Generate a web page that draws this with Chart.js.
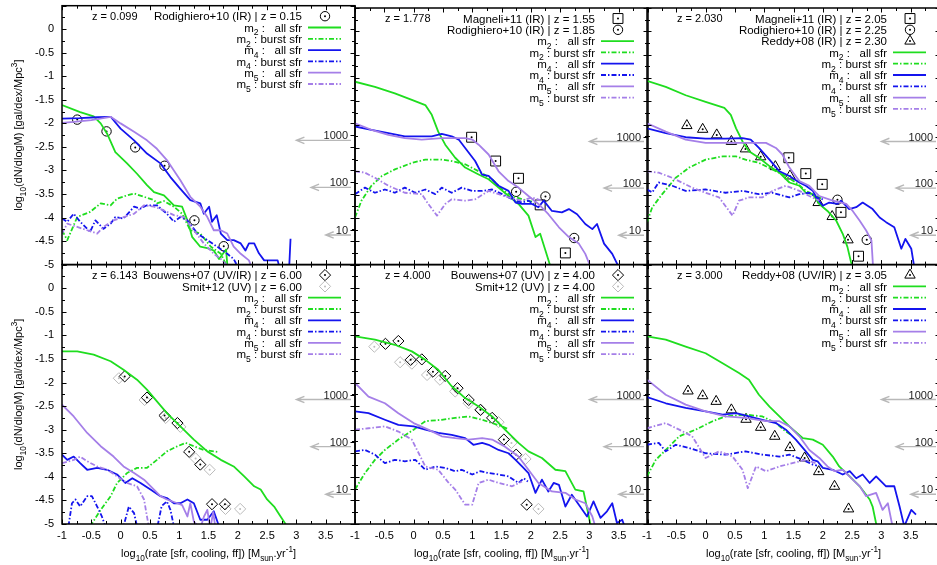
<!DOCTYPE html>
<html><head><meta charset="utf-8">
<script src="https://cdn.jsdelivr.net/npm/chart.js@4.4.1/dist/chart.umd.min.js"></script>
<style>
html,body{margin:0;padding:0;background:#fff;overflow:hidden;width:937px;height:565px;position:relative;}
canvas{position:absolute;left:0;top:0;}
</style></head><body>
<script>
// ---------------- DATA ----------------
const X_TICKS = [-1,-0.5,0,0.5,1,1.5,2,2.5,3,3.5,4];
const X_TICK_LABELS = ['-1','-0.5','0','0.5','1','1.5','2','2.5','3','3.5',''];
const X_MINOR = [-0.75,-0.25,0.25,0.75,1.25,1.75,2.25,2.75,3.25,3.75];
const Y_TICKS = [-5,-4.5,-4,-3.5,-3,-2.5,-2,-1.5,-1,-0.5,0,0.5];
const Y_TICK_LABELS = ['-5','-4.5','-4','-3.5','-3','-2.5','-2','-1.5','-1','-0.5','0',''];
const Y_MINOR = [-4.75,-4.25,-3.75,-3.25,-2.75,-2.25,-1.75,-1.25,-0.75,-0.25,0.25];
const COUNT_TICKS = [10,100,1000];
const COUNT_OFFSET = 5.255;          // log10(count) = y + offset
const ARROW_Y = [-2.36,-3.36,-4.37];
const ARROW_X = [3.0,3.25,3.5];
const Z_LABELS = ['z = 0.099','z = 1.778','z = 2.030','z = 6.143','z = 4.000','z = 3.000'];

// panel 1 (z=0.099)
const p1_m2_all=[[-1,-1.61],[-0.69,-1.76],[-0.46,-1.85],[-0.34,-2.0],[-0.23,-2.22],[-0.09,-2.61],[0.11,-2.85],[0.28,-3.07],[0.45,-3.31],[0.57,-3.46],[0.74,-3.53],[0.91,-3.74],[1.05,-3.77],[1.14,-4.06],[1.22,-4.41],[1.36,-4.62],[1.48,-4.65],[1.59,-4.7],[1.68,-4.88],[1.8,-4.68],[1.84,-5.3]];
const p1_m2_burst=[[-1,-4.27],[-0.91,-4.48],[-0.74,-3.99],[-0.52,-3.88],[-0.34,-3.7],[-0.17,-3.74],[-0.06,-3.6],[0.11,-3.53],[0.23,-3.49],[0.4,-3.56],[0.57,-3.63],[0.62,-3.7],[0.74,-3.65],[0.91,-3.77],[1.05,-3.92],[1.19,-4.27],[1.36,-4.34],[1.54,-4.62],[1.71,-4.77],[1.82,-5.05]];
const p1_m4_all=[[-1,-1.9],[-0.7,-1.89],[-0.4,-1.87],[-0.17,-1.86],[0,-2.11],[0.23,-2.36],[0.45,-2.64],[0.68,-2.85],[0.85,-3.14],[1.02,-3.39],[1.19,-3.63],[1.36,-3.7],[1.42,-3.92],[1.51,-3.77],[1.56,-4.09],[1.64,-3.95],[1.71,-4.34],[1.82,-4.48],[1.93,-4.48],[2.05,-4.55],[2.13,-4.7],[2.19,-4.55],[2.28,-4.55],[2.36,-4.76],[2.45,-4.91],[2.56,-4.91],[2.68,-4.91],[2.72,-5.1],[2.86,-5.5],[2.9,-4.45]];
const p1_m4_burst=[[-1,-4.02],[-0.91,-4.09],[-0.8,-3.92],[-0.69,-4.09],[-0.52,-4.3],[-0.43,-4.06],[-0.29,-4.24],[-0.17,-4.13],[-0.09,-3.99],[0.05,-4.02],[0.23,-3.77],[0.34,-3.81],[0.45,-3.74],[0.62,-3.74],[0.79,-3.92],[0.91,-4.09],[1.02,-3.99],[1.14,-4.06],[1.31,-4.34],[1.48,-4.48],[1.65,-4.62],[1.82,-4.77],[1.93,-4.88],[2.0,-5.05]];
const p1_m5_all=[[-1,-1.99],[-0.8,-1.97],[-0.5,-1.93],[-0.17,-1.86],[0,-2.0],[0.23,-2.18],[0.45,-2.36],[0.62,-2.54],[0.79,-2.78],[1.02,-3.21],[1.19,-3.56],[1.36,-3.77],[1.48,-3.99],[1.59,-4.27],[1.71,-4.27],[1.82,-4.34],[1.93,-4.62],[2.05,-4.77],[2.19,-4.91],[2.25,-5.1]];
const p1_m5_burst=[[-1,-4.34],[-0.91,-4.13],[-0.74,-4.2],[-0.57,-4.27],[-0.4,-4.34],[-0.29,-4.2],[-0.12,-4.06],[0.05,-3.99],[0.23,-3.92],[0.4,-3.74],[0.57,-3.77],[0.74,-3.85],[0.91,-3.95],[1.08,-3.99],[1.25,-4.27],[1.42,-4.55],[1.59,-4.77],[1.71,-4.88],[1.82,-5.02]];
const p1_rodighiero=[[-0.74,-1.92],[-0.24,-2.17],[0.25,-2.51],[0.75,-2.9],[1.26,-4.06],[1.76,-4.61]];

// panel 2 (z=1.778)
const p2_m2_all=[[-1,-1.08],[-0.66,-1.19],[-0.32,-1.33],[-0.03,-1.47],[0.2,-1.58],[0.31,-1.79],[0.42,-2.15],[0.54,-2.43],[0.71,-2.71],[0.88,-2.92],[1.11,-3.07],[1.28,-3.17],[1.45,-3.35],[1.62,-3.53],[1.79,-3.7],[1.96,-3.95],[2.08,-4.41],[2.16,-4.34],[2.25,-4.7],[2.35,-5.1]];
const p2_m2_burst=[[-1,-3.99],[-0.89,-3.63],[-0.72,-3.31],[-0.54,-3.1],[-0.32,-2.96],[-0.03,-2.82],[0.2,-2.75],[0.48,-2.75],[0.65,-2.78],[0.88,-2.85],[1.11,-3.0],[1.34,-3.17],[1.51,-3.39],[1.68,-3.53],[1.85,-3.6],[2.05,-3.66]];
const p2_m4_all=[[-1,-2.04],[-0.72,-2.11],[-0.43,-2.18],[-0.15,-2.25],[0.14,-2.25],[0.31,-2.25],[0.48,-2.2],[0.65,-2.25],[0.77,-2.32],[0.88,-2.5],[1.05,-2.78],[1.17,-3.07],[1.28,-3.1],[1.45,-3.31],[1.62,-3.42],[1.74,-3.67],[1.85,-3.7],[2.02,-3.7],[2.13,-3.77],[2.22,-3.63],[2.36,-3.85],[2.53,-3.88],[2.65,-3.81],[2.79,-3.92],[2.93,-4.13],[3.05,-4.24],[3.13,-4.13],[3.25,-4.55],[3.39,-4.77],[3.5,-5.05]];
const p2_m4_burst=[[-1,-3.49],[-0.83,-3.35],[-0.66,-3.46],[-0.49,-3.39],[-0.32,-3.46],[-0.15,-3.35],[0.03,-3.46],[0.2,-3.39],[0.37,-3.49],[0.48,-3.35],[0.65,-3.46],[0.82,-3.35],[1.0,-3.42],[1.17,-3.42],[1.34,-3.39],[1.51,-3.49],[1.62,-3.56],[1.74,-3.63],[1.85,-3.67],[1.96,-3.63],[2.05,-3.7]];
const p2_m5_all=[[-1,-1.97],[-0.72,-2.11],[-0.43,-2.22],[-0.15,-2.29],[0.14,-2.32],[0.48,-2.29],[0.71,-2.29],[0.88,-2.29],[1.0,-2.32],[1.11,-2.43],[1.28,-2.64],[1.45,-3.0],[1.62,-3.21],[1.79,-3.35],[1.96,-3.53],[2.13,-3.7],[2.3,-3.92],[2.48,-4.2],[2.65,-4.41],[2.82,-4.55],[2.93,-4.77],[3.02,-5.05]];
const p2_m5_burst=[[-1,-3.0],[-0.83,-3.03],[-0.66,-3.14],[-0.43,-3.31],[-0.15,-3.46],[0.14,-3.49],[0.25,-3.7],[0.4,-3.95],[0.54,-3.7],[0.65,-3.6],[0.88,-3.63],[1.05,-3.6],[1.28,-3.42],[1.45,-3.49],[1.62,-3.56],[1.85,-3.63],[2.02,-3.56],[2.19,-3.63]];
const p2_magneli=[[0.99,-2.27],[1.4,-2.78],[1.79,-3.15],[2.16,-3.72],[2.59,-4.75]];
const p2_rodighiero=[[1.75,-3.44],[2.25,-3.54],[2.74,-4.43]];

// panel 3 (z=2.030)
const p3_m2_all=[[-1,-1.06],[-0.68,-1.19],[-0.34,-1.37],[0,-1.51],[0.32,-1.64],[0.43,-1.79],[0.52,-2.08],[0.63,-2.36],[0.74,-2.57],[0.91,-2.71],[1.09,-2.89],[1.26,-3.03],[1.43,-3.24],[1.6,-3.31],[1.71,-3.46],[1.83,-3.49],[1.94,-3.7],[2.08,-3.85],[2.23,-4.06],[2.34,-4.34],[2.42,-4.62],[2.48,-4.94],[2.52,-5.1]];
const p3_m2_burst=[[-1,-4.09],[-0.91,-3.77],[-0.74,-3.49],[-0.51,-3.14],[-0.28,-2.92],[0,-2.75],[0.29,-2.68],[0.52,-2.68],[0.68,-2.75],[0.91,-2.82],[1.14,-2.96],[1.37,-3.1],[1.54,-3.24],[1.71,-3.42],[1.89,-3.53],[2.0,-3.6]];
const p3_m4_all=[[-1,-2.08],[-0.68,-2.18],[-0.34,-2.27],[0,-2.3],[0.34,-2.3],[0.63,-2.29],[0.77,-2.32],[0.91,-2.5],[1.09,-2.75],[1.26,-3.0],[1.43,-3.1],[1.6,-3.24],[1.71,-3.31],[1.83,-3.42],[1.89,-3.56],[2.0,-3.74],[2.11,-3.67],[2.25,-3.7],[2.31,-3.63],[2.45,-3.81],[2.57,-3.77],[2.68,-3.67],[2.85,-3.81],[2.97,-3.99],[3.08,-4.09],[3.22,-4.2],[3.34,-4.66],[3.41,-4.45],[3.51,-4.66],[3.56,-5.05]];
const p3_m4_burst=[[-1,-3.39],[-0.91,-3.45],[-0.8,-3.24],[-0.57,-3.31],[-0.34,-3.42],[0,-3.39],[0.34,-3.46],[0.63,-3.42],[0.91,-3.49],[1.14,-3.46],[1.43,-3.56],[1.6,-3.49],[1.77,-3.46],[1.89,-3.56],[2.0,-3.6]];
const p3_m5_all=[[-1,-1.97],[-0.68,-2.15],[-0.34,-2.32],[0,-2.39],[0.34,-2.39],[0.68,-2.39],[1.03,-2.39],[1.2,-2.5],[1.31,-2.64],[1.43,-2.92],[1.6,-3.21],[1.77,-3.31],[1.94,-3.53],[2.17,-3.63],[2.4,-3.7],[2.51,-3.85],[2.63,-4.06],[2.74,-4.27],[2.83,-4.48],[2.86,-5.1]];
const p3_m5_burst=[[-1,-3.0],[-0.8,-3.03],[-0.57,-3.14],[-0.23,-3.35],[0,-3.46],[0.23,-3.56],[0.46,-3.95],[0.57,-3.63],[0.74,-3.56],[0.97,-3.56],[1.14,-3.42],[1.37,-3.31],[1.6,-3.42],[1.77,-3.53],[1.94,-3.63]];
const p3_magneli=[[1.42,-2.71],[1.71,-3.05],[1.99,-3.28],[2.31,-3.88],[2.61,-4.82]];
const p3_rodighiero=[[2.25,-3.61],[2.75,-4.47]];
const p3_reddy=[[-0.32,-2.02],[-0.05,-2.1],[0.19,-2.22],[0.44,-2.36],[0.68,-2.52],[0.94,-2.69],[1.19,-2.9],[1.44,-3.1],[1.92,-3.67],[2.16,-3.97],[2.43,-4.47]];

// panel 4 (z=6.143)
const p4_m2_all=[[-1,-1.34],[-0.74,-1.34],[-0.46,-1.41],[-0.17,-1.55],[0.05,-1.73],[0.28,-1.94],[0.45,-2.15],[0.62,-2.4],[0.79,-2.65],[1.02,-2.93],[1.25,-3.21],[1.48,-3.46],[1.71,-3.64],[1.93,-3.78],[2.11,-3.99],[2.28,-4.2],[2.39,-4.27],[2.5,-4.48],[2.62,-4.63],[2.73,-4.84],[2.84,-5.05]];
const p4_m2_burst=[[-0.52,-5.05],[-0.34,-4.7],[-0.17,-4.41],[-0.06,-4.13],[0.11,-3.92],[0.28,-3.81],[0.45,-3.81],[0.62,-3.64],[0.79,-3.46],[0.97,-3.35],[1.11,-3.28],[1.25,-3.35],[1.42,-3.43],[1.59,-3.46],[1.65,-3.47]];
const p4_m4_all=[[-1,-3.53],[-0.91,-3.64],[-0.8,-3.57],[-0.69,-3.71],[-0.57,-3.85],[-0.4,-3.81],[-0.23,-3.85],[-0.06,-3.95],[0.08,-4.13],[0.2,-4.03],[0.34,-4.13],[0.51,-4.27],[0.68,-4.41],[0.79,-4.45],[0.91,-4.56],[1.02,-4.56],[1.14,-4.48],[1.25,-4.56],[1.36,-4.91],[1.48,-4.91],[1.59,-4.73],[1.68,-5.05]];
const p4_m4_burst=[[-0.89,-5.05],[-0.83,-4.56],[-0.77,-4.48],[-0.69,-4.63],[-0.57,-4.41],[-0.49,-4.41],[-0.4,-4.63],[-0.32,-4.84],[-0.26,-5.05],[-0.1,-5.6],[0.05,-5.05],[0.14,-4.63],[0.23,-4.77],[0.28,-5.05],[0.5,-5.6],[0.63,-5.05],[0.7,-4.62],[0.79,-4.52],[0.85,-4.7],[0.91,-5.05]];
const p4_m5_all=[[-1,-2.47],[-0.8,-2.72],[-0.57,-3.07],[-0.34,-3.35],[-0.12,-3.57],[0.05,-3.78],[0.23,-3.92],[0.4,-4.06],[0.57,-4.27],[0.68,-4.41],[0.79,-4.48],[0.97,-4.56],[1.05,-4.6],[1.14,-4.84],[1.19,-4.56],[1.25,-4.95],[1.36,-5.1],[1.42,-4.85],[1.48,-4.7],[1.53,-5.1],[1.58,-4.75],[1.62,-5.1]];
const p4_m5_burst=[[-1,-3.71],[-0.8,-3.64],[-0.69,-3.57],[-0.57,-3.67],[-0.4,-3.78],[-0.23,-3.85],[-0.06,-3.99],[0.11,-4.13],[0.28,-4.2],[0.4,-4.48],[0.45,-4.84],[0.48,-5.05]];
const p4_bouwens=[[0.07,-1.87],[0.45,-2.32],[0.75,-2.7],[0.97,-2.86],[1.17,-3.47],[1.36,-3.74],[1.56,-4.58],[1.78,-4.58]];
const p4_smit=[[-0.03,-1.91],[0.41,-2.37],[0.77,-2.75],[1.02,-2.94],[1.28,-3.61],[1.52,-3.85],[1.79,-4.68],[2.04,-4.68]];

// panel 5 (z=4.000)
const p5_m2_all=[[-1,-1.02],[-0.66,-1.09],[-0.32,-1.2],[-0.03,-1.34],[0.2,-1.52],[0.42,-1.73],[0.65,-2.08],[0.88,-2.33],[1.11,-2.51],[1.34,-2.72],[1.56,-3.0],[1.79,-3.28],[1.96,-3.46],[2.19,-3.6],[2.42,-3.85],[2.59,-3.88],[2.76,-4.27],[2.9,-4.31],[2.99,-4.84],[3.03,-5.1]];
const p5_m2_burst=[[-1,-4.27],[-0.83,-3.92],[-0.66,-3.64],[-0.49,-3.43],[-0.26,-3.21],[0,-3.0],[0.2,-2.82],[0.48,-2.79],[0.71,-2.75],[0.94,-2.72],[1.17,-2.79],[1.34,-2.86],[1.51,-2.93],[1.6,-2.98]];
const p5_m4_all=[[-1,-2.61],[-0.77,-2.65],[-0.49,-2.79],[-0.26,-2.9],[0,-2.93],[0.2,-3.0],[0.42,-3.07],[0.65,-3.11],[0.88,-3.18],[1.02,-3.32],[1.17,-3.28],[1.28,-3.32],[1.45,-3.43],[1.62,-3.5],[1.74,-3.64],[1.85,-3.78],[1.96,-3.92],[2.08,-4.34],[2.19,-4.06],[2.3,-4.31],[2.39,-4.13],[2.48,-4.17],[2.59,-4.63],[2.7,-4.38],[2.82,-4.59],[2.96,-4.84],[3.07,-4.52],[3.19,-4.87],[3.3,-4.73],[3.39,-4.56],[3.47,-4.98],[3.56,-4.91],[3.6,-5.05]];
const p5_m4_burst=[[-1,-3.46],[-0.83,-3.43],[-0.66,-3.53],[-0.49,-3.71],[-0.32,-3.64],[-0.15,-3.67],[0.03,-3.64],[0.2,-3.85],[0.37,-3.78],[0.54,-3.81],[0.71,-3.88],[0.82,-3.85],[1.0,-3.95],[1.14,-3.88],[1.28,-3.92],[1.45,-3.95],[1.62,-3.99],[1.79,-4.13],[1.88,-4.03],[1.95,-4.1]];
const p5_m5_all=[[-1,-2.01],[-0.77,-2.3],[-0.49,-2.44],[-0.26,-2.65],[0,-2.86],[0.25,-3.0],[0.48,-3.14],[0.71,-3.18],[0.94,-3.21],[1.17,-3.18],[1.34,-3.21],[1.56,-3.36],[1.79,-3.57],[1.96,-3.85],[2.13,-4.13],[2.36,-4.31],[2.59,-4.34],[2.76,-4.48],[2.93,-4.56],[3.05,-4.84],[3.1,-5.05]];
const p5_m5_burst=[[-1,-3.0],[-0.77,-2.97],[-0.49,-2.93],[-0.26,-3.04],[-0.03,-3.21],[0.2,-3.78],[0.42,-3.85],[0.6,-4.13],[0.71,-4.27],[0.88,-4.59],[1.0,-4.59],[1.11,-4.13],[1.28,-4.06],[1.45,-4.13],[1.68,-4.2],[1.85,-4.1]];
const p5_bouwens=[[-0.48,-1.18],[-0.26,-1.12],[-0.05,-1.52],[0.14,-1.51],[0.33,-1.77],[0.54,-1.86],[0.75,-2.12],[0.94,-2.37],[1.14,-2.58],[1.34,-2.75],[1.54,-3.21],[1.75,-3.53],[1.93,-4.59]];
const p5_smit=[[-0.67,-1.24],[-0.23,-1.57],[-0.03,-1.6],[0.23,-1.84],[0.45,-1.94],[0.71,-2.19],[0.94,-2.44],[1.15,-2.58],[1.45,-2.84],[1.67,-3.28],[1.91,-3.62],[2.13,-4.68]];

// panel 6 (z=3.000)
const p6_m2_all=[[-1,-1.02],[-0.68,-1.09],[-0.34,-1.24],[0,-1.38],[0.29,-1.59],[0.57,-1.8],[0.74,-1.94],[0.91,-2.26],[1.09,-2.51],[1.26,-2.72],[1.43,-2.93],[1.66,-3.18],[1.83,-3.21],[2.0,-3.32],[2.17,-3.57],[2.28,-3.78],[2.46,-3.99],[2.63,-4.2],[2.8,-4.48],[2.85,-4.63],[2.92,-5.05]];
const p6_m2_burst=[[-1,-3.99],[-0.85,-3.64],[-0.68,-3.43],[-0.45,-3.14],[-0.17,-3.0],[0.12,-2.82],[0.34,-2.72],[0.68,-2.68],[0.97,-2.72],[1.2,-2.86],[1.37,-3.04],[1.45,-3.1]];
const p6_m4_all=[[-1,-2.31],[-0.68,-2.44],[-0.34,-2.54],[0,-2.61],[0.29,-2.68],[0.52,-2.65],[0.74,-2.72],[0.97,-2.79],[1.2,-2.86],[1.37,-3.0],[1.54,-3.21],[1.71,-3.46],[1.83,-3.64],[1.91,-3.67],[2.0,-3.81],[2.17,-3.85],[2.34,-3.95],[2.46,-3.88],[2.57,-4.03],[2.68,-3.95],[2.8,-4.13],[2.91,-3.99],[3.08,-4.2],[3.22,-4.2],[3.31,-4.63],[3.39,-5.05],[3.51,-4.7],[3.59,-4.8]];
const p6_m4_burst=[[-1,-3.32],[-0.8,-3.28],[-0.68,-3.46],[-0.51,-3.32],[-0.28,-3.39],[0,-3.5],[0.34,-3.53],[0.68,-3.46],[0.97,-3.53],[1.26,-3.57],[1.43,-3.53],[1.66,-3.64],[1.83,-3.74],[1.9,-3.76]];
const p6_m5_all=[[-1,-1.94],[-0.68,-2.26],[-0.34,-2.47],[0,-2.61],[0.34,-2.72],[0.68,-2.75],[1.03,-2.82],[1.26,-2.82],[1.43,-2.93],[1.6,-3.14],[1.77,-3.43],[1.94,-3.6],[2.08,-3.78],[2.2,-3.88],[2.34,-3.85],[2.51,-4.06],[2.63,-4.2],[2.74,-4.41],[2.91,-4.34],[3.02,-4.7],[3.11,-4.56],[3.19,-5.05]];
const p6_m5_burst=[[-1,-2.97],[-0.68,-2.86],[-0.45,-3.0],[-0.23,-3.14],[0,-3.6],[0.23,-3.46],[0.46,-3.57],[0.63,-3.85],[0.72,-4.24],[0.86,-3.78],[1.03,-3.88],[1.26,-3.78],[1.48,-3.71],[1.71,-3.64],[1.88,-3.71]];
const p6_reddy=[[-0.3,-2.18],[-0.05,-2.28],[0.18,-2.4],[0.44,-2.58],[0.69,-2.78],[0.94,-2.95],[1.18,-3.14],[1.44,-3.38],[1.69,-3.6],[1.93,-3.89],[2.2,-4.2],[2.44,-4.68]];

// ---------------- STYLE / LAYOUT ----------------
const FONT = "'Liberation Sans', Arial, Helvetica, sans-serif";
const GREEN='#1fdd1f', BLUE='#1414ee', PURPLE='#a57fe8';
const DASHDOT=[5,2,1.5,2];
const CW=960, CH=565;
const COL_LEFT=[62,355,647], PW=293;
const ROW_TOP=[5.5,264.6], ROW_BOT=[264.6,524];
const YW=40, XH=30;
const LEG_FS=11.5;

const modelStyle=[
  {color:GREEN, dash:[], label:[['m',0],['2',1],[' :   all sfr',0]]},
  {color:GREEN, dash:DASHDOT, label:[['m',0],['2',1],[' : burst sfr',0]]},
  {color:BLUE, dash:[], label:[['m',0],['4',1],[' :   all sfr',0]]},
  {color:BLUE, dash:DASHDOT, label:[['m',0],['4',1],[' : burst sfr',0]]},
  {color:PURPLE, dash:[], label:[['m',0],['5',1],[' :   all sfr',0]]},
  {color:PURPLE, dash:DASHDOT, label:[['m',0],['5',1],[' : burst sfr',0]]}
];
const MARK_R={circle:4.7, rect:7, triangle:6, rectRot:5.6};

const panels=[
 {col:0,row:0,z:Z_LABELS[0],models:[p1_m2_all,p1_m2_burst,p1_m4_all,p1_m4_burst,p1_m5_all,p1_m5_burst],
  obs:[{label:'Rodighiero+10 (IR) | z = 0.15',style:'circle',color:'#000',data:p1_rodighiero}]},
 {col:1,row:0,z:Z_LABELS[1],models:[p2_m2_all,p2_m2_burst,p2_m4_all,p2_m4_burst,p2_m5_all,p2_m5_burst],
  obs:[{label:'Magneli+11 (IR) | z = 1.55',style:'rect',color:'#000',data:p2_magneli},
       {label:'Rodighiero+10 (IR) | z = 1.85',style:'circle',color:'#000',data:p2_rodighiero}]},
 {col:2,row:0,z:Z_LABELS[2],models:[p3_m2_all,p3_m2_burst,p3_m4_all,p3_m4_burst,p3_m5_all,p3_m5_burst],
  obs:[{label:'Magneli+11 (IR) | z = 2.05',style:'rect',color:'#000',data:p3_magneli},
       {label:'Rodighiero+10 (IR) | z = 2.25',style:'circle',color:'#000',data:p3_rodighiero},
       {label:'Reddy+08 (IR) | z = 2.30',style:'triangle',color:'#000',data:p3_reddy}]},
 {col:0,row:1,z:Z_LABELS[3],models:[p4_m2_all,p4_m2_burst,p4_m4_all,p4_m4_burst,p4_m5_all,p4_m5_burst],
  obs:[{label:'Bouwens+07 (UV/IR) | z = 6.00',style:'rectRot',color:'#000',data:p4_bouwens},
       {label:'Smit+12 (UV) | z = 6.00',style:'rectRot',color:'#bbbbbb',data:p4_smit}]},
 {col:1,row:1,z:Z_LABELS[4],models:[p5_m2_all,p5_m2_burst,p5_m4_all,p5_m4_burst,p5_m5_all,p5_m5_burst],
  obs:[{label:'Bouwens+07 (UV) | z = 4.00',style:'rectRot',color:'#000',data:p5_bouwens},
       {label:'Smit+12 (UV) | z = 4.00',style:'rectRot',color:'#bbbbbb',data:p5_smit}]},
 {col:2,row:1,z:Z_LABELS[5],models:[p6_m2_all,p6_m2_burst,p6_m4_all,p6_m4_burst,p6_m5_all,p6_m5_burst],
  obs:[{label:'Reddy+08 (UV/IR) | z = 3.05',style:'triangle',color:'#000',data:p6_reddy}]}
];

const Y_TITLE=[['log',0],['10',1],['(dN/dlogM) [gal/dex/Mpc',0],['3',2],[']',0]];
const X_TITLE=[['log',0],['10',1],['(rate [sfr, cooling, ff]) [M',0],['sun',1],['.yr',0],['-1',2],[']',0]];

// ---------------- HELPERS ----------------
function richDraw(ctx,segs,x,y,size,align){
  const parts=segs.map(([t,m])=>{const fs=m?size*0.75:size;ctx.font=fs+'px '+FONT;return {t,m,fs,w:ctx.measureText(t).width};});
  const total=parts.reduce((a,p)=>a+p.w,0);
  let cx=align==='right'?x-total:align==='center'?x-total/2:x;
  ctx.textAlign='left';ctx.textBaseline='alphabetic';
  const base=y+size*0.36;
  parts.forEach(p=>{ctx.font=p.fs+'px '+FONT;const dy=p.m===1?size*0.33:p.m===2?-size*0.42:0;ctx.fillText(p.t,cx,base+dy);cx+=p.w;});
}
function drawMarker(ctx,style,x,y,color){
  const r=MARK_R[style];
  ctx.save();ctx.strokeStyle=color;ctx.fillStyle=color;ctx.lineWidth=1;ctx.setLineDash([]);
  ctx.beginPath();
  if(style==='circle'){ctx.arc(x,y,r,0,Math.PI*2);}
  else if(style==='rect'){const s=r*Math.SQRT1_2;ctx.rect(x-s,y-s,2*s,2*s);}
  else if(style==='rectRot'){ctx.moveTo(x-r,y);ctx.lineTo(x,y-r);ctx.lineTo(x+r,y);ctx.lineTo(x,y+r);ctx.closePath();}
  else if(style==='triangle'){let a=0;ctx.moveTo(x+Math.sin(a)*r,y-Math.cos(a)*r);a+=2*Math.PI/3;ctx.lineTo(x+Math.sin(a)*r,y-Math.cos(a)*r);a+=2*Math.PI/3;ctx.lineTo(x+Math.sin(a)*r,y-Math.cos(a)*r);ctx.closePath();}
  ctx.stroke();
  ctx.beginPath();ctx.arc(x,y,1,0,Math.PI*2);ctx.fill();
  ctx.restore();
}

const PANEL_OF=new Map();

const panelPlugin={
  id:'panelDeco',
  beforeDatasetsDraw(chart){
    const p=PANEL_OF.get(chart.canvas); if(!p) return;
    const ctx=chart.ctx, ca=chart.chartArea, xs=chart.scales.x, ys=chart.scales.y, y2=chart.scales.y2;
    ctx.save();
    ctx.strokeStyle='#b8b8b8';ctx.lineWidth=1.4;
    ARROW_Y.forEach((v,k)=>{
      const yp=ys.getPixelForValue(v), x0=xs.getPixelForValue(ARROW_X[k]), x1=ca.right-4;
      ctx.beginPath();ctx.moveTo(x1,yp);ctx.lineTo(x0,yp);
      ctx.moveTo(x0+8,yp-3.2);ctx.lineTo(x0,yp);ctx.lineTo(x0+8,yp+3.2);ctx.stroke();
    });
    ctx.fillStyle='#222';ctx.font='11px '+FONT;ctx.textAlign='right';ctx.textBaseline='middle';
    COUNT_TICKS.forEach(n=>{const yp=y2.getPixelForValue(Math.log10(n));ctx.fillText(String(n),ca.right-7,yp+1);});
    ctx.restore();
  },
  afterDraw(chart){
    const p=PANEL_OF.get(chart.canvas); if(!p) return;
    const ctx=chart.ctx, ca=chart.chartArea, xs=chart.scales.x, ys=chart.scales.y, y2=chart.scales.y2;
    ctx.save();
    ctx.strokeStyle='#000';ctx.lineWidth=1;ctx.setLineDash([]);
    const TL=4.5, TM=3;
    ctx.beginPath();
    X_TICKS.forEach(v=>{const xp=Math.round(xs.getPixelForValue(v))+0.5;ctx.moveTo(xp,ca.top);ctx.lineTo(xp,ca.top+TL);ctx.moveTo(xp,ca.bottom);ctx.lineTo(xp,ca.bottom-TL);});
    X_MINOR.forEach(v=>{const xp=Math.round(xs.getPixelForValue(v))+0.5;ctx.moveTo(xp,ca.top);ctx.lineTo(xp,ca.top+TM);ctx.moveTo(xp,ca.bottom);ctx.lineTo(xp,ca.bottom-TM);});
    Y_TICKS.forEach(v=>{const yp=Math.round(ys.getPixelForValue(v))+0.5;ctx.moveTo(ca.left,yp);ctx.lineTo(ca.left+TL,yp);ctx.moveTo(ca.right,yp);ctx.lineTo(ca.right-TL,yp);});
    Y_MINOR.forEach(v=>{const yp=Math.round(ys.getPixelForValue(v))+0.5;ctx.moveTo(ca.left,yp);ctx.lineTo(ca.left+TM,yp);ctx.moveTo(ca.right,yp);ctx.lineTo(ca.right-TM,yp);});
    COUNT_TICKS.forEach(n=>{const yp=Math.round(y2.getPixelForValue(Math.log10(n)))+0.5;ctx.moveTo(ca.right,yp);ctx.lineTo(ca.right-TL,yp);});
    ctx.stroke();
    ctx.lineWidth=1.5;
    ctx.strokeRect(ca.left,ca.top,ca.right-ca.left,ca.bottom-ca.top);
    ctx.fillStyle='#000';
    richDraw(ctx,[[p.z,0]],ca.left+30,ca.top+10.5,11,'left');
    let row=0;
    const rowY=i=>ca.top+10.5+i*11.3;
    p.obs.forEach(o=>{
      const y=rowY(row++);ctx.fillStyle='#000';
      richDraw(ctx,[[o.label,0]],ca.right-53,y,LEG_FS,'right');
      drawMarker(ctx,o.style,ca.right-30,y,o.color);
    });
    modelStyle.forEach(s=>{
      const y=rowY(row++);ctx.fillStyle='#000';
      richDraw(ctx,s.label,ca.right-53,y,LEG_FS,'right');
      ctx.save();ctx.strokeStyle=s.color;ctx.lineWidth=1.8;ctx.setLineDash(s.dash);
      ctx.beginPath();ctx.moveTo(ca.right-47,y);ctx.lineTo(ca.right-14,y);ctx.stroke();ctx.restore();
    });
    ctx.fillStyle='#000';
    if(p.col===0){
      ctx.save();ctx.translate(18,(ca.top+ca.bottom)/2);ctx.rotate(-Math.PI/2);
      richDraw(ctx,Y_TITLE,0,0,11,'center');ctx.restore();
    }
    if(p.row===1){
      richDraw(ctx,X_TITLE,(ca.left+ca.right)/2,553,11,'center');
    }
    ctx.restore();
  }
};
Chart.register(panelPlugin);

function zeroPad(s){s.paddingLeft=0;s.paddingRight=0;s.paddingTop=0;s.paddingBottom=0;}

panels.forEach(p=>{
  const cv=document.createElement('canvas');
  cv.width=CW;cv.height=CH;cv.style.width=CW+'px';cv.style.height=CH+'px';
  document.body.appendChild(cv);
  PANEL_OF.set(cv,p);
  const L=COL_LEFT[p.col], R=L+PW, T=ROW_TOP[p.row], B=ROW_BOT[p.row];
  const showY=p.col===0, showX=p.row===1;
  const datasets=[];
  for(let k=5;k>=0;k--){
    const s=modelStyle[k];
    datasets.push({data:p.models[k].map(([x,y])=>({x,y})),showLine:true,borderColor:s.color,borderWidth:1.8,
      borderDash:s.dash,pointRadius:0,fill:false,tension:0,clip:0,borderJoinStyle:'round'});
  }
  p.obs.forEach(o=>{
    datasets.push({data:o.data.map(([x,y])=>({x,y})),showLine:false,pointStyle:'circle',pointRadius:1,
      pointBorderWidth:0,pointBackgroundColor:o.color,borderColor:o.color,clip:false});
    datasets.push({data:o.data.map(([x,y])=>({x,y})),showLine:false,pointStyle:o.style,pointRadius:MARK_R[o.style],
      pointBorderWidth:1,pointBorderColor:o.color,pointBackgroundColor:'rgba(0,0,0,0)',borderColor:o.color,clip:false});
  });
  new Chart(cv,{
    type:'scatter',
    data:{datasets},
    options:{
      responsive:false,animation:false,devicePixelRatio:1,events:[],
      layout:{padding:{left:L-(showY?YW:0),top:T,right:CW-R,bottom:CH-B-(showX?XH:0)}},
      plugins:{legend:{display:false},tooltip:{enabled:false}},
      scales:{
        x:{type:'linear',position:'bottom',min:-1,max:4,display:showX,
          afterBuildTicks:s=>{s.ticks=X_TICKS.map(v=>({value:v}));},
          afterFit:s=>{if(showX)s.height=XH;zeroPad(s);},
          ticks:{autoSkip:false,maxRotation:0,minRotation:0,padding:5.5,color:'#000',font:{family:FONT,size:11},
            callback:(v,i)=>X_TICK_LABELS[i]},
          grid:{display:false,drawTicks:false},border:{display:false}},
        y:{type:'linear',position:'left',min:-5,max:0.5,display:showY,
          afterBuildTicks:s=>{s.ticks=Y_TICKS.map(v=>({value:v}));},
          afterFit:s=>{if(showY)s.width=YW;zeroPad(s);},
          ticks:{autoSkip:false,padding:8,color:'#000',font:{family:FONT,size:11},
            callback:(v,i)=>Y_TICK_LABELS[i]},
          grid:{display:false,drawTicks:false},border:{display:false}},
        y2:{type:'linear',position:'right',min:-5+COUNT_OFFSET,max:0.5+COUNT_OFFSET,display:false}
      }
    }
  });
});
</script>
</body></html>
